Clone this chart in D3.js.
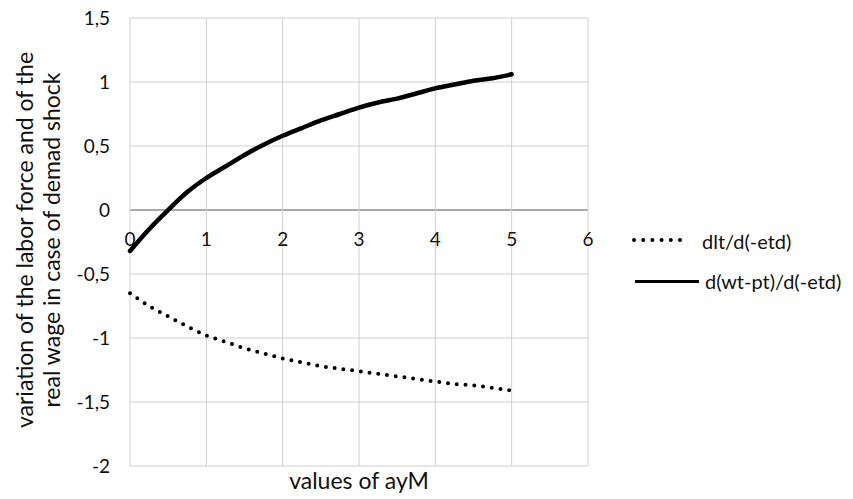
<!DOCTYPE html>
<html>
<head>
<meta charset="utf-8">
<script src="https://cdn.jsdelivr.net/npm/d3@7"></script>
<style>
  body { margin: 0; background: #fff; }
  text { font-family: Lato, "Open Sans", sans-serif; fill: #111; }
</style>
</head>
<body>
<script>
// values, step 0.25
var ayM = [0, 0.25, 0.5, 0.75, 1, 1.25, 1.5, 1.75, 2, 2.25, 2.5, 2.75, 3, 3.25, 3.5, 3.75, 4, 4.25, 4.5, 4.75, 5];
var dlt = [-0.65, -0.75, -0.83, -0.91, -0.98, -1.03, -1.08, -1.12, -1.16, -1.19, -1.22, -1.24, -1.26, -1.28, -1.30, -1.32, -1.34, -1.36, -1.37, -1.39, -1.41];
var dwage = [-0.32, -0.15, 0.0, 0.14, 0.25, 0.34, 0.43, 0.51, 0.58, 0.64, 0.70, 0.75, 0.80, 0.84, 0.87, 0.91, 0.95, 0.98, 1.01, 1.03, 1.06];
var seriesNames = ["dlt/d(-etd)", "d(wt-pt)/d(-etd)"];
var xTicks = [0, 1, 2, 3, 4, 5, 6];
var yTicks = [-2, -1.5, -1, -0.5, 0, 0.5, 1, 1.5];

var margin = {top: 18, left: 130},
    width = 458,
    height = 448;

var svg = d3.select("body").append("svg")
  .attr("width", 853)
  .attr("height", 499);

var g = svg.append("g")
  .attr("transform", "translate(" + margin.left + "," + margin.top + ")");

var x = d3.scaleLinear().domain([0, 6]).range([0, width]);
var y = d3.scaleLinear().domain([-2, 1.5]).range([height, 0]);

var fmt = function(d) { return String(d).replace(".", ","); };

// grid
g.selectAll(".hgrid").data(yTicks).enter().append("line")
  .attr("x1", 0).attr("x2", width)
  .attr("y1", function(d) { return y(d); })
  .attr("y2", function(d) { return y(d); })
  .attr("stroke", function(d) { return d === 0 ? "#8c8c8c" : "#d0d0d0"; })
  .attr("stroke-width", function(d) { return d === 0 ? 1.3 : 1; });

g.selectAll(".vgrid").data(xTicks).enter().append("line")
  .attr("y1", 0).attr("y2", height)
  .attr("x1", function(d) { return x(d); })
  .attr("x2", function(d) { return x(d); })
  .attr("stroke", "#d0d0d0");

// y tick labels
g.selectAll(".ylab").data(yTicks).enter().append("text")
  .attr("x", -20)
  .attr("y", function(d) { return y(d); })
  .attr("dy", "0.35em")
  .attr("text-anchor", "end")
  .style("font-size", "19px")
  .text(fmt);

// x tick labels sit under the zero line
g.selectAll(".xlab").data(xTicks).enter().append("text")
  .attr("x", function(d) { return x(d); })
  .attr("y", y(0) + 36)
  .attr("text-anchor", "middle")
  .style("font-size", "19px")
  .text(fmt);

var pts = function(vals) { return ayM.map(function(a, i) { return [a, vals[i]]; }); };

var line = d3.line()
  .x(function(d) { return x(d[0]); })
  .y(function(d) { return y(d[1]); })
  .curve(d3.curveMonotoneX);

g.append("path")
  .datum(pts(dlt))
  .attr("d", line)
  .attr("fill", "none")
  .attr("stroke", "#000")
  .attr("stroke-width", 4)
  .attr("stroke-linecap", "round")
  .attr("stroke-dasharray", "0,8.8");

g.append("path")
  .datum(pts(dwage))
  .attr("d", line)
  .attr("fill", "none")
  .attr("stroke", "#000")
  .attr("stroke-width", 4.5)
  .attr("stroke-linecap", "round");

// axis titles
svg.append("text")
  .attr("x", 359)
  .attr("y", 489)
  .attr("text-anchor", "middle")
  .style("font-size", "23px")
  .text("values of ayM");

var yt = svg.append("text")
  .attr("transform", "translate(0,240) rotate(-90)")
  .attr("text-anchor", "middle")
  .style("font-size", "23px");
yt.append("tspan").attr("x", 0).attr("y", 33).text("variation of the labor force and of the");
yt.append("tspan").attr("x", 0).attr("y", 60).text("real wage in case of demad shock");

// legend
var legend = svg.append("g").attr("transform", "translate(634,0)");
legend.append("line")
  .attr("x1", 0).attr("x2", 55).attr("y1", 240).attr("y2", 240)
  .attr("stroke", "#000").attr("stroke-width", 4)
  .attr("stroke-linecap", "round").attr("stroke-dasharray", "0,9.2");
legend.append("line")
  .attr("x1", 1).attr("x2", 65).attr("y1", 281.5).attr("y2", 281.5)
  .attr("stroke", "#000").attr("stroke-width", 3);
legend.append("text").attr("x", 68).attr("y", 242).attr("dy", "0.35em")
  .style("font-size", "20px").text(seriesNames[0]);
legend.append("text").attr("x", 71).attr("y", 281.5).attr("dy", "0.35em")
  .style("font-size", "20px").text(seriesNames[1]);
</script>
</body>
</html>
